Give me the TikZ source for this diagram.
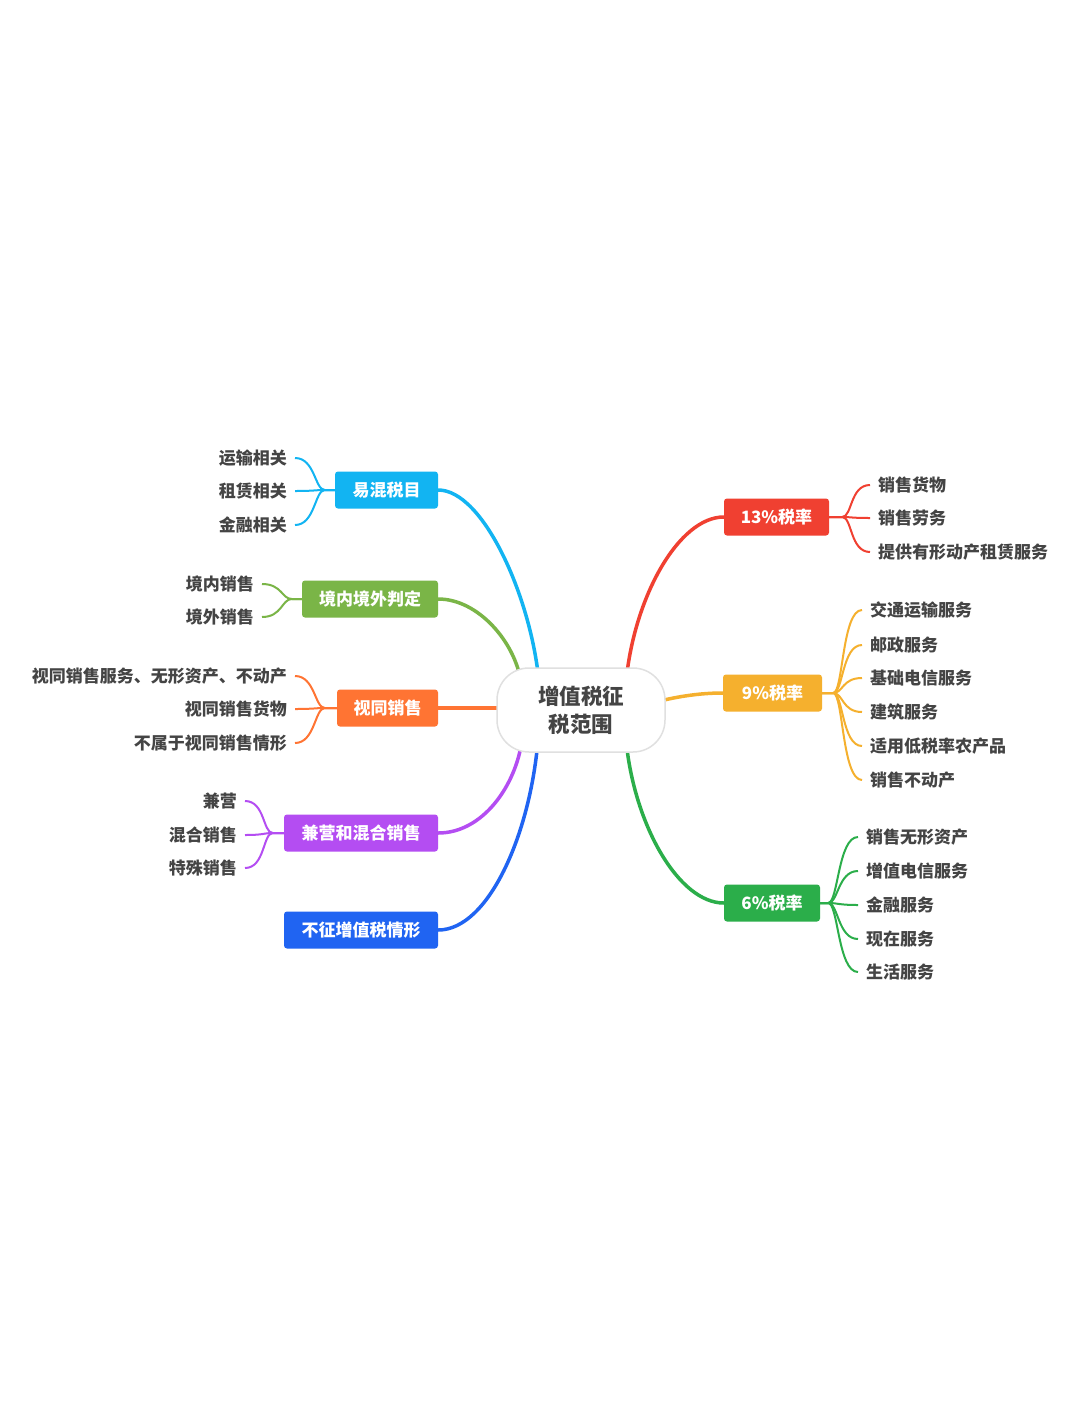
\documentclass[tikz,border=0pt]{standalone}
\usepackage{fontspec}
\newfontfamily\cjk{Noto Sans CJK SC}
\usetikzlibrary{calc}
\definecolor{cCyan}{HTML}{12B4F2}
\definecolor{cLime}{HTML}{7AB547}
\definecolor{cOrange}{HTML}{FF7433}
\definecolor{cPurple}{HTML}{B44DF2}
\definecolor{cBlue}{HTML}{2064F2}
\definecolor{cRed}{HTML}{F04031}
\definecolor{cYellow}{HTML}{F5B02E}
\definecolor{cGreen}{HTML}{2BAE4A}
\definecolor{txt}{HTML}{444444}
\begin{document}
\begin{tikzpicture}[x=1pt,y=-1pt,
 box/.style={rounded corners=3pt, minimum height=37pt, text=white, font=\cjk\bfseries\fontsize{17}{20}\selectfont, inner sep=0pt},
 leafL/.style={anchor=east, text=txt, font=\cjk\bfseries\fontsize{17}{20}\selectfont, inner xsep=8pt, inner ysep=2pt},
 leafR/.style={anchor=west, text=txt, font=\cjk\bfseries\fontsize{17}{20}\selectfont, inner xsep=8pt, inner ysep=2pt},
 main/.style={line width=3.5pt, line cap=round},
 brk/.style={line width=2pt}]
\fill[white] (0,0) rectangle (1080,1427);
\useasboundingbox (0,0) rectangle (1080,1427);

% left boxes
\node[box, fill=cCyan, minimum width=103pt] (bA) at (386.5,490) {易混税目};
\node[box, fill=cLime, minimum width=136pt] (bB) at (370,599) {境内境外判定};
\node[box, fill=cOrange, minimum width=101pt] (bC) at (387.5,708) {视同销售};
\node[box, fill=cPurple, minimum width=154pt] (bD) at (361,833) {兼营和混合销售};
\node[box, fill=cBlue, minimum width=154pt] (bE) at (361,930) {不征增值税情形};
% right boxes
\node[box, fill=cRed, minimum width=105pt] (r1) at (776.5,517) {13\%税率};
\node[box, fill=cYellow, minimum width=99pt] (r2) at (772.5,693) {9\%税率};
\node[box, fill=cGreen, minimum width=96pt] (r3) at (772,903) {6\%税率};

% left leaves
\node[leafL] (a1) at (295,458) {运输相关};
\node[leafL] (a2) at (295,491) {租赁相关};
\node[leafL] (a3) at (295,525) {金融相关};
\node[leafL] (b1) at (262,584) {境内销售};
\node[leafL] (b2) at (262,617) {境外销售};
\node[leafL] (c1) at (295,676) {视同销售服务、无形资产、不动产};
\node[leafL] (c2) at (295,709) {视同销售货物};
\node[leafL] (c3) at (295,743) {不属于视同销售情形};
\node[leafL] (d1) at (245,801) {兼营};
\node[leafL] (d2) at (245,835) {混合销售};
\node[leafL] (d3) at (245,868) {特殊销售};
% right leaves
\node[leafR] (e1) at (870,485) {销售货物};
\node[leafR] (e2) at (870,518) {销售劳务};
\node[leafR] (e3) at (870,552) {提供有形动产租赁服务};
\node[leafR] (f1) at (862,610) {交通运输服务};
\node[leafR] (f2) at (862,645) {邮政服务};
\node[leafR] (f3) at (862,678) {基础电信服务};
\node[leafR] (f4) at (862,712) {建筑服务};
\node[leafR] (f5) at (862,746) {适用低税率农产品};
\node[leafR] (f6) at (862,780) {销售不动产};
\node[leafR] (g1) at (858,837) {销售无形资产};
\node[leafR] (g2) at (858,871) {增值电信服务};
\node[leafR] (g3) at (858,905) {金融服务};
\node[leafR] (g4) at (858,939) {现在服务};
\node[leafR] (g5) at (858,972) {生活服务};

% junctions
\coordinate (jA) at ($(bA.west)+(-10,0)$);
\coordinate (jB) at ($(bB.west)+(-10,0)$);
\coordinate (jC) at ($(bC.west)+(-12,0)$);
\coordinate (jD) at ($(bD.west)+(-11,0)$);
\coordinate (jE) at ($(r1.east)+(13,0)$);
\coordinate (jF) at ($(r2.east)+(11,0)$);
\coordinate (jG) at ($(r3.east)+(8,0)$);

% brackets
\foreach \n in {a1,a2,a3}
  \draw[brk,cCyan] (bA.west) -- (jA) .. controls +(-10,0) and +(20,0) .. (\n.east);
\foreach \n in {b1,b2}
  \draw[brk,cLime] (bB.west) -- (jB) .. controls +(-10,0) and +(20,0) .. (\n.east);
\foreach \n in {c1,c2,c3}
  \draw[brk,cOrange] (bC.west) -- (jC) .. controls +(-10,0) and +(20,0) .. (\n.east);
\foreach \n in {d1,d2,d3}
  \draw[brk,cPurple] (bD.west) -- (jD) .. controls +(-10,0) and +(20,0) .. (\n.east);
\foreach \n in {e1,e2,e3}
  \draw[brk,cRed] (r1.east) -- (jE) .. controls +(10,0) and +(-20,0) .. (\n.west);
\foreach \n in {f1,f2,f3,f4,f5,f6}
  \draw[brk,cYellow] (r2.east) -- (jF) .. controls +(10,0) and +(-20,0) .. (\n.west);
\foreach \n in {g1,g2,g3,g4,g5}
  \draw[brk,cGreen] (r3.east) -- (jG) .. controls +(10,0) and +(-20,0) .. (\n.west);

% centre attachment points
\coordinate (pCyan) at (539,682);
\coordinate (pLime) at (521,682);
\coordinate (pOrange) at (510,708);
\coordinate (pPurple) at (522,740);
\coordinate (pBlue) at (538,740);
\coordinate (pRed) at (626,682);
\coordinate (pYellow) at (652,703);
\coordinate (pGreen) at (626,740);

% main connectors
\draw[main,cCyan] (bA.east) .. controls +(45,0) and +(-8,-85) .. (pCyan);
\draw[main,cLime] (bB.east) .. controls +(40,0) and +(-6,-40) .. (pLime);
\draw[main,cOrange] (bC.east) -- (pOrange);
\draw[main,cPurple] (bD.east) .. controls +(45,0) and +(-6,45) .. (pPurple);
\draw[main,cBlue] (bE.east) .. controls +(50,0) and +(-8,95) .. (pBlue);
\draw[main,cRed] (r1.west) .. controls +(-45,0) and +(8,-85) .. (pRed);
\draw[main,cYellow] (r2.west) .. controls +(-30,0) and +(15,-4) .. (pYellow);
\draw[main,cGreen] (r3.west) .. controls +(-45,0) and +(8,85) .. (pGreen);

% centre
\node[draw=black!12, line width=1.5pt, fill=white, rounded corners=32pt,
      minimum width=168pt, minimum height=84pt, align=center, text=txt,
      font=\cjk\bfseries\fontsize{21.5}{28}\selectfont] (c) at (581,710) {增值税征\\税范围};
\end{tikzpicture}
\end{document}
